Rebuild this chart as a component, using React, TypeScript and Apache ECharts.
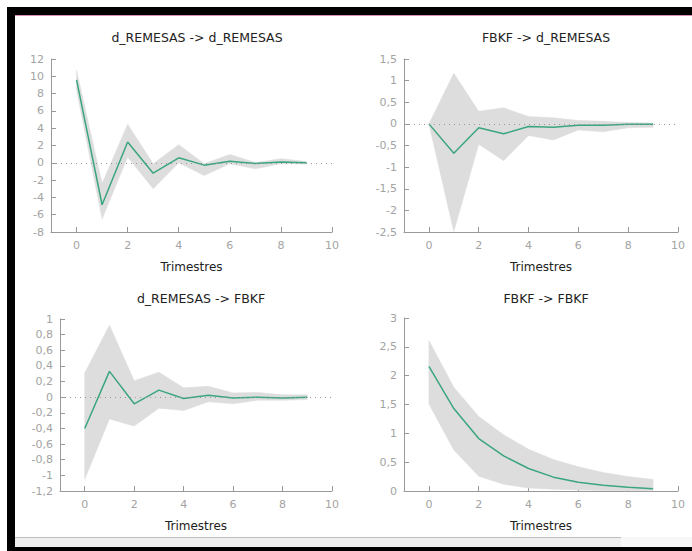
import React, { useEffect, useRef } from "react";
import * as echarts from "echarts";

const periods = [0, 1, 2, 3, 4, 5, 6, 7, 8, 9];
const xTicks = [0, 2, 4, 6, 8, 10];

const titles = ["d_REMESAS -> d_REMESAS", "FBKF -> d_REMESAS", "d_REMESAS -> FBKF", "FBKF -> FBKF"];
const xName = "Trimestres";

const remRemIrf = [9.59, -4.85, 2.41, -1.2, 0.58, -0.27, 0.19, -0.08, 0.08, 0];
const remRemLo = [8.4, -6.5, 0.66, -3.0, 0.0, -1.48, -0.1, -0.7, -0.1, -0.15];
const remRemHi = [10.7, -2.4, 4.47, -0.1, 2.1, -0.1, 0.97, 0.04, 0.47, 0.15];

const fbkfRemIrf = [0, -0.68, -0.09, -0.23, -0.06, -0.08, -0.03, -0.03, -0.01, -0.01];
const fbkfRemLo = [0, -2.49, -0.47, -0.85, -0.27, -0.37, -0.14, -0.18, -0.09, -0.08];
const fbkfRemHi = [0, 1.17, 0.29, 0.37, 0.17, 0.14, 0.08, 0.06, 0.03, 0.02];

const remFbkfIrf = [-0.4, 0.33, -0.085, 0.09, -0.017, 0.026, -0.01, 0, -0.01, 0];
const remFbkfLo = [-1.05, -0.28, -0.37, -0.14, -0.17, -0.06, -0.085, -0.04, -0.04, -0.03];
const remFbkfHi = [0.31, 0.92, 0.21, 0.32, 0.12, 0.14, 0.055, 0.06, 0.03, 0.03];

const fbkfFbkfIrf = [2.16, 1.43, 0.91, 0.61, 0.39, 0.24, 0.15, 0.1, 0.064, 0.04];
const fbkfFbkfLo = [1.51, 0.71, 0.255, 0.116, 0.05, 0.03, 0.018, 0.01, 0.006, 0.004];
const fbkfFbkfHi = [2.61, 1.8, 1.29, 0.975, 0.725, 0.545, 0.42, 0.32, 0.25, 0.2];

const yMin = [-8, -2.5, -1.2, 0];
const yMax = [12, 1.5, 1, 3];
const yInterval = [2, 0.5, 0.2, 0.5];

const panels = [
  { irf: remRemIrf, lo: remRemLo, hi: remRemHi, zero: true },
  { irf: fbkfRemIrf, lo: fbkfRemLo, hi: fbkfRemHi, zero: true },
  { irf: remFbkfIrf, lo: remFbkfLo, hi: remFbkfHi, zero: true },
  { irf: fbkfFbkfIrf, lo: fbkfFbkfLo, hi: fbkfFbkfHi, zero: false },
];

const grids = [
  { left: 51, top: 59, width: 281, height: 173 },
  { left: 404, top: 59, width: 274, height: 173 },
  { left: 60, top: 319, width: 272, height: 172 },
  { left: 404, top: 318, width: 274, height: 173 },
];

const titlePos = [
  { x: 192, y: 26 },
  { x: 541, y: 26 },
  { x: 196, y: 287 },
  { x: 541, y: 287 },
];

const FONT = "DejaVu Sans";
const GREEN = "#3ba67d";
const BAND = "#dddddd";
const AXIS = "#999999";
const LABEL = "#a3a3a3";

function fmt(v: number) {
  return String(Number(v.toFixed(3))).replace(".", ",");
}

export default function App() {
  const ref = useRef<HTMLDivElement>(null);
  useEffect(() => {
    if (!ref.current) return;
    const chart = echarts.init(ref.current, undefined, { renderer: "svg" });
    const series: any[] = [];
    panels.forEach((p, i) => {
      series.push({
        type: "custom",
        xAxisIndex: i,
        yAxisIndex: i,
        silent: true,
        z: 1,
        data: periods.map((t, k) => [t, p.lo[k], p.hi[k]]),
        encode: { x: 0, y: [1, 2] },
        renderItem: (params: any, api: any) => {
          if (params.dataIndex !== 0) return null;
          const upper = periods.map((t, k) => api.coord([t, p.hi[k]]));
          const lower = periods.map((t, k) => api.coord([t, p.lo[k]])).reverse();
          return {
            type: "polygon",
            shape: { points: upper.concat(lower) },
            style: { fill: BAND, stroke: BAND, lineWidth: 0.5 },
          };
        },
      });
      series.push({
        type: "line",
        xAxisIndex: i,
        yAxisIndex: i,
        symbol: "none",
        lineStyle: { color: GREEN, width: 1.5 },
        itemStyle: { color: GREEN },
        data: periods.map((t, k) => [t, p.irf[k]]),
        z: 3,
        markLine: p.zero
          ? {
              silent: true,
              symbol: ["none", "none"],
              label: { show: false },
              lineStyle: { color: "#999", type: [1, 4], width: 1 },
              data: [{ yAxis: 0 }],
            }
          : undefined,
      });
    });

    const option: any = {
      animation: false,
      backgroundColor: "#ffffff",
      title: titles.map((t, i) => ({
        text: t,
        left: titlePos[i].x,
        top: titlePos[i].y,
        textAlign: "center",
        textStyle: { fontFamily: FONT, fontSize: 12.5, fontWeight: "normal", color: "#222" },
      })),
      grid: grids.map((g) => ({ ...g, containLabel: false })),
      xAxis: grids.map((_, i) => ({
        type: "value",
        gridIndex: i,
        min: -1,
        max: 10,
        name: xName,
        nameLocation: "middle",
        nameGap: 29,
        nameTextStyle: { fontFamily: FONT, fontSize: 12, color: "#222" },
        axisLine: { show: true, onZero: false, lineStyle: { color: AXIS, width: 1 } },
        axisTick: { show: true, inside: true, length: 5, customValues: xTicks, lineStyle: { color: AXIS } },
        axisLabel: { customValues: xTicks, color: LABEL, fontFamily: FONT, fontSize: 11, margin: 8 },
        splitLine: { show: false },
      })),
      yAxis: grids.map((_, i) => ({
        type: "value",
        gridIndex: i,
        min: yMin[i],
        max: yMax[i],
        interval: yInterval[i],
        axisLine: { show: true, onZero: false, lineStyle: { color: AXIS, width: 1 } },
        axisTick: { show: true, inside: true, length: 5, lineStyle: { color: AXIS } },
        axisLabel: {
          color: LABEL,
          fontFamily: FONT,
          fontSize: 11,
          margin: 7,
          formatter: (v: number) => fmt(v),
        },
        splitLine: { show: false },
      })),
      series,
      graphic: [
        { type: "rect", shape: { x: 7, y: 7, width: 685, height: 8 }, style: { fill: "#000" }, silent: true },
        { type: "rect", shape: { x: 15, y: 15, width: 677, height: 1 }, style: { fill: "#d592b2" }, silent: true },
        { type: "rect", shape: { x: 7, y: 7, width: 8, height: 544 }, style: { fill: "#000" }, silent: true },
        { type: "rect", shape: { x: 15, y: 538, width: 677, height: 9 }, style: { fill: "#efefef" }, silent: true },
        { type: "rect", shape: { x: 15, y: 537, width: 606, height: 1 }, style: { fill: "#bdbdbd" }, silent: true },
        { type: "rect", shape: { x: 621, y: 537, width: 71, height: 10 }, style: { fill: "#f7f7f7" }, silent: true },
        { type: "rect", shape: { x: 7, y: 547, width: 685, height: 4 }, style: { fill: "#000" }, silent: true },
      ],
    };
    chart.setOption(option);
    return () => chart.dispose();
  }, []);
  return (
    <div
      ref={ref}
      style={{ position: "absolute", left: 0, top: 0, width: 692, height: 551, background: "#fff" }}
    />
  );
}
